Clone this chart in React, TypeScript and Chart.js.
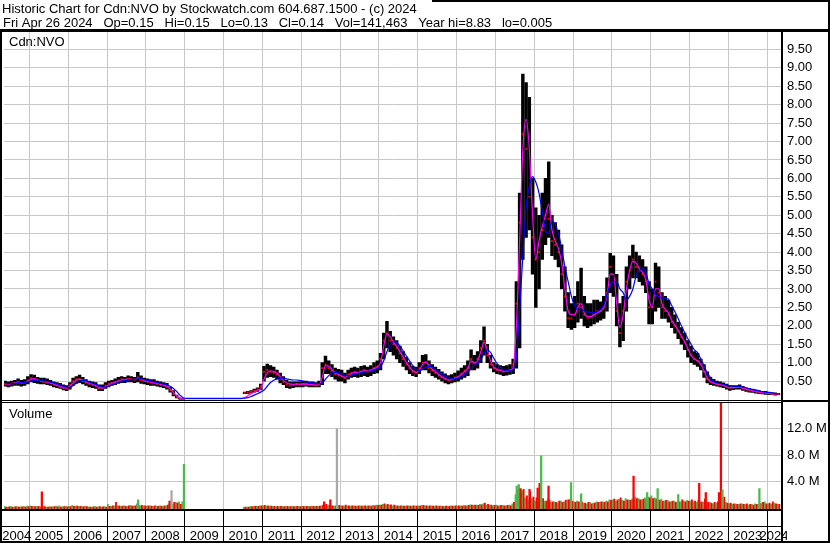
import React, { useEffect, useRef } from "react";
import { Chart, registerables } from "chart.js";
Chart.register(...registerables);

const TITLE = "Historic Chart for Cdn:NVO by Stockwatch.com 604.687.1500 - (c) 2024";
const INFO = "Fri Apr 26 2024   Op=0.15   Hi=0.15   Lo=0.13   Cl=0.14   Vol=141,463   Year hi=8.83   lo=0.005";
const SYMBOL = "Cdn:NVO";
const VOLUME_TITLE = "Volume";

const START_YEAR = 2004;
const START_MONTH = 5; // first month shown: May 2004
const X_MIN = 2004.345;
const X_MAX = 2024.357;
const Y_MIN = -0.081;
const Y_MAX = 10;
const V_MIN = -0.2; // millions
const V_MAX = 16;

const yearLabels = ["2004","2005","2006","2007","2008","2009","2010","2011","2012","2013","2014","2015","2016","2017","2018","2019","2020","2021","2022","2023","2024"];

const N = null;
// monthly price ranges (May 2004 .. Apr 2024)
const priceHigh: (number | null)[] = [
  0.50,0.48,0.50,0.52,0.56,0.52,0.54,0.62,
  0.68,0.66,0.60,0.58,0.58,0.56,0.52,0.48,0.46,0.44,0.40,0.38,
  0.46,0.58,0.62,0.66,0.60,0.54,0.50,0.48,0.46,0.40,0.40,0.46,
  0.50,0.52,0.56,0.60,0.62,0.60,0.64,0.62,0.60,0.74,0.64,0.58,
  0.56,0.54,0.54,0.50,0.48,0.46,0.44,0.34,0.24,0.12,0.04,0.02,
  N,N,N,N,N,N,N,N,N,N,N,N,
  N,N,N,N,N,N,0.20,0.22,0.24,0.28,0.32,0.42,
  0.90,0.96,0.92,0.88,0.80,0.72,0.62,0.52,0.48,0.48,0.48,0.48,
  0.50,0.50,0.48,0.48,0.46,0.50,1.00,1.18,1.05,0.95,0.85,0.82,
  0.80,0.72,0.80,0.85,0.88,0.85,0.90,0.92,0.88,0.92,1.00,1.05,
  1.25,1.80,2.12,1.85,1.70,1.60,1.45,1.30,1.15,1.00,0.90,0.88,
  1.00,1.20,1.22,1.05,0.95,0.88,0.82,0.75,0.70,0.65,0.68,0.72,
  0.78,0.85,0.92,1.05,1.35,1.20,1.30,1.60,1.97,1.50,1.20,1.00,
  0.95,0.92,0.90,0.92,0.95,1.10,3.20,5.60,8.83,8.60,8.20,6.00,
  5.20,5.00,5.60,6.00,6.45,5.00,4.80,4.60,4.20,3.60,2.90,2.60,
  2.80,3.20,3.57,2.80,2.60,2.60,2.70,2.70,2.65,2.80,3.30,3.97,
  3.90,3.40,2.60,2.80,3.60,3.90,4.19,4.00,3.90,3.80,3.60,3.20,
  3.00,3.70,3.60,2.90,2.80,2.70,2.50,2.30,2.10,1.95,1.80,1.60,
  1.45,1.30,1.25,1.10,0.95,0.75,0.60,0.55,0.50,0.48,0.45,0.42,
  0.38,0.38,0.38,0.40,0.36,0.32,0.30,0.28,0.26,0.24,0.22,0.22,
  0.20,0.19,0.18,0.17,
];
const priceLow: (number | null)[] = [
  0.36,0.34,0.36,0.38,0.38,0.36,0.38,0.42,
  0.48,0.46,0.44,0.42,0.42,0.40,0.38,0.34,0.32,0.30,0.26,0.24,
  0.28,0.38,0.44,0.46,0.42,0.38,0.34,0.32,0.30,0.24,0.24,0.30,
  0.34,0.38,0.40,0.44,0.46,0.46,0.48,0.48,0.46,0.48,0.44,0.42,
  0.40,0.38,0.38,0.36,0.34,0.32,0.28,0.20,0.10,0.04,0.01,0.005,
  N,N,N,N,N,N,N,N,N,N,N,N,
  N,N,N,N,N,N,0.16,0.16,0.18,0.20,0.22,0.26,
  0.50,0.60,0.62,0.60,0.55,0.45,0.40,0.32,0.30,0.32,0.34,0.34,
  0.34,0.36,0.34,0.34,0.34,0.34,0.40,0.70,0.70,0.62,0.55,0.50,
  0.50,0.45,0.55,0.60,0.62,0.60,0.62,0.65,0.62,0.65,0.70,0.72,
  0.80,1.10,1.40,1.30,1.20,1.10,1.00,0.90,0.80,0.70,0.65,0.62,
  0.70,0.80,0.80,0.72,0.65,0.60,0.55,0.50,0.45,0.42,0.45,0.48,
  0.50,0.55,0.60,0.65,0.80,0.80,0.85,1.00,1.20,1.00,0.85,0.75,
  0.70,0.68,0.65,0.66,0.68,0.70,0.85,1.40,3.80,4.40,4.60,3.40,
  2.50,3.00,3.80,4.20,4.40,3.90,3.80,3.60,3.00,2.40,1.95,1.90,
  1.95,2.10,2.20,2.00,1.95,2.00,2.05,2.10,2.15,2.20,2.40,2.90,
  2.80,2.00,1.43,1.60,2.40,3.00,3.30,3.30,3.20,3.10,2.90,2.05,
  2.05,2.40,2.50,2.20,2.20,2.10,1.95,1.80,1.65,1.50,1.35,1.15,
  1.00,0.95,0.90,0.80,0.60,0.45,0.40,0.38,0.36,0.34,0.32,0.28,
  0.25,0.27,0.28,0.28,0.25,0.22,0.20,0.19,0.17,0.16,0.15,0.14,
  0.13,0.13,0.12,0.13,
];
const priceClose: (number | null)[] = [
  0.42,0.40,0.44,0.45,0.48,0.44,0.46,0.52,
  0.58,0.55,0.52,0.50,0.48,0.46,0.44,0.40,0.38,0.34,0.30,0.30,
  0.40,0.50,0.55,0.56,0.50,0.45,0.42,0.40,0.36,0.30,0.32,0.38,
  0.44,0.46,0.48,0.52,0.55,0.54,0.56,0.55,0.54,0.60,0.52,0.50,
  0.48,0.46,0.45,0.42,0.40,0.38,0.34,0.25,0.14,0.06,0.02,0.01,
  N,N,N,N,N,N,N,N,N,N,N,N,
  N,N,N,N,N,N,0.18,0.19,0.21,0.24,0.28,0.36,
  0.75,0.80,0.75,0.72,0.68,0.55,0.48,0.40,0.38,0.40,0.42,0.40,
  0.42,0.42,0.40,0.40,0.38,0.40,0.85,0.95,0.85,0.78,0.68,0.65,
  0.62,0.58,0.68,0.72,0.75,0.72,0.76,0.80,0.76,0.80,0.85,0.90,
  1.10,1.60,1.80,1.60,1.50,1.40,1.25,1.10,0.95,0.85,0.75,0.72,
  0.85,1.00,1.00,0.85,0.78,0.72,0.65,0.60,0.55,0.52,0.55,0.60,
  0.62,0.70,0.78,0.85,1.10,0.98,1.10,1.40,1.60,1.20,0.95,0.85,
  0.80,0.78,0.75,0.78,0.80,0.95,2.60,4.80,7.20,6.80,5.50,4.40,
  3.80,4.00,4.60,5.00,4.90,4.30,4.20,4.00,3.40,2.80,2.20,2.20,
  2.30,2.60,2.50,2.30,2.20,2.25,2.30,2.40,2.40,2.50,2.90,3.60,
  3.20,2.40,1.80,2.40,3.20,3.50,3.80,3.60,3.50,3.40,3.20,2.50,
  2.50,3.20,2.90,2.50,2.40,2.30,2.10,2.00,1.85,1.70,1.55,1.35,
  1.20,1.10,1.05,0.95,0.75,0.55,0.48,0.45,0.42,0.40,0.38,0.33,
  0.32,0.33,0.33,0.34,0.30,0.27,0.25,0.23,0.21,0.20,0.18,0.17,
  0.16,0.15,0.15,0.14,
];
const maShort: number[] = [
  0.43,0.42,0.43,0.45,0.46,0.45,0.46,0.50,
  0.55,0.57,0.54,0.51,0.49,0.47,0.45,0.42,0.39,0.36,0.33,0.31,
  0.36,0.45,0.52,0.55,0.53,0.48,0.44,0.41,0.38,0.33,0.31,0.35,
  0.40,0.44,0.47,0.50,0.53,0.54,0.55,0.55,0.54,0.57,0.55,0.51,
  0.49,0.47,0.46,0.44,0.41,0.39,0.36,0.29,0.19,0.10,0.04,0.02,
  0.025,0.025,0.025,0.025,0.025,0.025,0.025,0.025,0.025,0.025,0.025,0.025,
  0.025,0.025,0.025,0.025,0.025,0.025,0.05,0.10,0.16,0.20,0.25,0.30,
  0.55,0.72,0.78,0.76,0.72,0.62,0.52,0.45,0.42,0.41,0.42,0.42,
  0.42,0.42,0.41,0.40,0.39,0.40,0.60,0.92,0.90,0.82,0.72,0.68,
  0.64,0.60,0.64,0.70,0.74,0.73,0.75,0.78,0.77,0.79,0.84,0.88,
  1.00,1.45,1.78,1.70,1.55,1.45,1.30,1.15,1.00,0.88,0.78,0.74,
  0.80,0.95,1.02,0.92,0.82,0.75,0.68,0.62,0.57,0.53,0.54,0.58,
  0.62,0.68,0.76,0.84,1.05,1.00,1.05,1.30,1.55,1.35,1.05,0.88,
  0.82,0.80,0.77,0.77,0.79,0.88,2.00,4.30,6.80,7.60,6.80,5.00,
  3.80,4.30,4.70,5.00,5.30,4.60,4.30,4.10,3.70,3.00,2.40,2.30,
  2.30,2.50,2.60,2.35,2.25,2.25,2.30,2.35,2.40,2.50,2.80,3.40,
  3.40,2.60,1.95,2.30,3.00,3.50,3.75,3.70,3.55,3.45,3.25,2.70,
  2.50,3.00,3.00,2.60,2.45,2.35,2.15,2.02,1.88,1.72,1.57,1.38,
  1.20,1.10,1.05,0.95,0.78,0.58,0.48,0.45,0.42,0.40,0.38,0.34,
  0.32,0.32,0.33,0.33,0.31,0.28,0.26,0.24,0.22,0.20,0.19,0.18,
  0.17,0.16,0.15,0.15,
];
const maLong: number[] = [
  0.44,0.43,0.43,0.44,0.45,0.45,0.46,0.48,
  0.50,0.52,0.53,0.52,0.50,0.49,0.47,0.45,0.42,0.39,0.36,0.33,
  0.33,0.38,0.44,0.50,0.52,0.51,0.47,0.44,0.41,0.37,0.34,0.34,
  0.36,0.40,0.44,0.47,0.50,0.52,0.53,0.54,0.55,0.56,0.56,0.54,
  0.52,0.50,0.48,0.46,0.44,0.42,0.40,0.36,0.30,0.22,0.12,0.05,
  0.03,0.03,0.03,0.03,0.03,0.03,0.03,0.03,0.03,0.03,0.03,0.03,
  0.03,0.03,0.03,0.03,0.03,0.03,0.035,0.05,0.08,0.12,0.16,0.20,
  0.26,0.36,0.46,0.52,0.56,0.58,0.58,0.56,0.54,0.53,0.53,0.52,
  0.50,0.48,0.46,0.45,0.44,0.43,0.45,0.55,0.65,0.72,0.74,0.72,
  0.70,0.66,0.64,0.66,0.69,0.71,0.73,0.75,0.76,0.77,0.80,0.83,
  0.88,1.05,1.30,1.50,1.58,1.55,1.45,1.32,1.18,1.05,0.92,0.82,
  0.78,0.82,0.88,0.90,0.88,0.82,0.76,0.70,0.64,0.59,0.56,0.56,
  0.58,0.62,0.68,0.74,0.84,0.92,0.98,1.08,1.25,1.35,1.28,1.12,
  0.98,0.88,0.80,0.78,0.78,0.82,1.10,2.40,3.90,5.20,5.80,6.05,
  5.90,5.60,5.10,4.60,4.50,4.85,4.75,4.50,4.10,3.60,3.20,2.80,
  2.55,2.45,2.45,2.40,2.38,2.36,2.35,2.38,2.45,2.55,2.85,3.10,
  3.20,3.20,3.00,2.90,2.70,2.80,3.00,3.35,3.50,3.55,3.45,3.15,
  3.00,2.85,2.78,2.76,2.75,2.72,2.55,2.38,2.20,2.00,1.82,1.65,
  1.50,1.35,1.27,1.10,0.92,0.72,0.60,0.48,0.45,0.43,0.41,0.39,
  0.37,0.36,0.35,0.35,0.34,0.32,0.29,0.27,0.25,0.23,0.21,0.20,
  0.19,0.18,0.16,0.15,
];
// typical daily volume per month, millions (up days / down days)
const volGreen: number[] = [
  0.15,0.1,0.2,0.1,0.15,0.12,0.2,0.25,
  0.3,0.2,0.15,0.12,0.2,0.1,0.15,0.12,0.25,0.3,0.15,0.2,
  0.2,0.35,0.25,0.2,0.15,0.2,0.12,0.1,0.15,0.12,0.1,0.15,
  0.5,0.2,0.3,0.25,0.2,0.3,0.2,0.35,0.3,0.6,0.3,0.25,
  0.25,0.3,0.2,0.25,0.3,0.2,0.3,0.6,0.5,0.8,0.9,0.9,
  0,0,0,0,0,0,0,0,0,0,0,0,
  0,0,0,0,0,0,0.05,0.1,0.15,0.2,0.25,0.3,
  0.3,0.25,0.2,0.2,0.15,0.15,0.2,0.15,0.15,0.2,0.15,0.2,
  0.2,0.15,0.2,0.25,0.2,0.2,0.3,0.4,0.3,0.3,0.25,0.3,
  0.3,0.25,0.3,0.25,0.3,0.25,0.3,0.3,0.25,0.3,0.35,0.4,
  0.4,0.5,0.45,0.35,0.3,0.3,0.25,0.3,0.25,0.3,0.25,0.3,
  0.3,0.35,0.3,0.25,0.3,0.25,0.2,0.25,0.2,0.25,0.3,0.25,
  0.3,0.3,0.35,0.3,0.45,0.35,0.4,0.5,0.6,0.4,0.35,0.3,
  0.4,0.3,0.35,0.3,0.4,0.6,2.0,3.4,2.6,1.5,1.2,1.4,
  1.0,0.9,1.2,1.0,1.4,0.8,0.9,0.7,1.0,0.9,1.2,1.3,
  0.9,1.0,0.8,0.7,0.6,0.8,0.7,0.9,0.8,0.9,1.0,1.2,
  1.2,1.0,1.3,1.1,1.4,1.2,1.3,1.6,1.4,1.2,1.5,1.6,
  1.8,1.5,1.2,1.3,1.0,1.1,0.9,1.0,0.8,0.9,1.0,1.1,
  1.0,0.9,0.8,0.9,0.8,0.7,0.8,0.6,0.7,0.9,1.2,0.8,
  0.6,0.5,0.6,0.5,0.6,0.5,0.4,0.5,0.6,0.5,0.7,0.9,
  0.6,0.5,0.7,0.5,
];
const volRed: number[] = [
  0.1,0.12,0.1,0.15,0.1,0.12,0.1,0.15,
  0.2,0.15,0.2,0.1,0.15,0.1,0.12,0.15,0.12,0.1,0.15,0.12,
  0.15,0.2,0.25,0.2,0.15,0.15,0.1,0.12,0.1,0.15,0.12,0.1,
  0.2,0.3,0.8,0.3,0.25,0.2,0.3,0.25,0.3,0.4,0.35,0.3,
  0.3,0.25,0.3,0.2,0.25,0.3,0.4,1.0,0.8,0.7,0.5,0.3,
  0,0,0,0,0,0,0,0,0,0,0,0,
  0,0,0,0,0,0,0.1,0.1,0.15,0.2,0.2,0.3,
  0.35,0.3,0.25,0.2,0.2,0.2,0.15,0.2,0.15,0.15,0.2,0.15,
  0.2,0.2,0.15,0.2,0.2,0.25,0.4,0.5,0.4,0.3,0.3,0.35,
  0.3,0.4,0.3,0.3,0.25,0.3,0.25,0.3,0.3,0.25,0.3,0.35,
  0.4,0.6,0.5,0.45,0.4,0.3,0.3,0.25,0.3,0.25,0.3,0.25,
  0.25,0.35,0.3,0.3,0.25,0.3,0.25,0.2,0.25,0.2,0.25,0.3,
  0.3,0.25,0.3,0.35,0.4,0.4,0.35,0.45,0.7,0.5,0.4,0.35,
  0.3,0.35,0.3,0.35,0.3,0.8,2.6,2.2,2.8,1.8,2.4,1.6,
  1.5,1.2,1.4,1.0,1.1,0.9,0.8,1.0,0.8,1.1,1.2,1.0,
  0.8,0.9,0.9,0.7,0.8,0.6,0.7,0.8,0.9,0.8,0.9,1.1,
  1.3,1.2,1.5,1.0,1.2,1.1,1.2,1.4,1.2,1.3,1.2,1.5,
  1.4,1.3,1.1,1.0,1.1,0.9,1.0,0.8,0.9,1.2,0.9,1.0,
  1.2,1.0,1.1,0.9,1.3,0.8,0.7,0.8,0.9,1.0,1.6,0.7,
  0.7,0.6,0.5,0.6,0.5,0.6,0.5,0.4,0.5,0.6,0.8,0.6,
  0.7,0.9,0.6,0.5,
];
// notable single-day volume bars: [date (year fraction), millions, colour key]
const volSpikes: [number, number, string][] = [
  [2005.32, 2.4, "r"], [2007.80, 1.2, "g"], [2008.61, 1.0, "r"], [2008.66, 2.6, "k"],
  [2008.98, 6.6, "g"], [2012.59, 0.9, "r"], [2012.75, 1.2, "r"], [2012.92, 12.0, "k"],
  [2017.55, 3.3, "g"], [2017.60, 3.5, "g"], [2017.65, 2.9, "r"], [2017.88, 2.8, "r"],
  [2018.09, 3.0, "r"], [2018.14, 3.7, "r"], [2018.18, 7.9, "g"], [2018.37, 3.3, "r"],
  [2018.95, 3.8, "g"], [2019.21, 2.1, "g"], [2020.56, 4.8, "r"], [2020.91, 2.3, "g"],
  [2021.18, 2.9, "g"], [2021.71, 2.0, "g"], [2022.25, 3.7, "r"], [2022.42, 2.3, "r"],
  [2022.76, 2.3, "r"], [2022.81, 16.0, "r"], [2022.85, 2.7, "g"], [2023.80, 2.9, "g"],
];

const GREEN = "#4db84d";
const RED = "#ff0000";
const GREY = "#a8a8a8";
const GRID = "#c8c8c8";
const FONT = "'Liberation Sans', Arial, sans-serif";
const spikeColor: Record<string, string> = { r: RED, g: GREEN, k: GREY };

const framePlugin = {
  id: "frame",
  afterDraw(chart: any) {
    const { ctx, chartArea, scales } = chart;
    const xs = scales.x;
    const W = chart.width, H = chart.height;
    const axisX = Math.round(chartArea.right);
    ctx.save();
    ctx.fillStyle = "#000";
    ctx.font = `13px ${FONT}`;
    ctx.textAlign = "left";
    ctx.textBaseline = "alphabetic";
    ctx.fillText(TITLE, 2, 13);
    ctx.fillText(INFO, 3, 27);
    ctx.fillText(SYMBOL, 9, 46);
    ctx.fillText(VOLUME_TITLE, 9, 418);
    // frame lines
    ctx.fillRect(432, 0, W - 432, 2);
    ctx.fillRect(W - 2, 0, 2, H);
    ctx.fillRect(0, 29, W, 3);
    ctx.fillRect(0, 29, 2, H - 29);
    ctx.fillRect(axisX, 29, 2, H - 29);
    const split = Math.round(scales.y.bottom);
    ctx.fillRect(0, split - 3, W, 1);
    ctx.fillRect(axisX, split - 3, W - axisX, 2);
    ctx.fillRect(0, split - 1, axisX, 1);
    const bot = Math.round(chartArea.bottom);
    ctx.fillRect(0, bot, axisX, 2);
    ctx.fillRect(0, bot + 17, axisX, 1);
    ctx.fillRect(0, H - 2, W, 2);
    // year separators and labels
    for (let k = 1; k < yearLabels.length; k++) {
      const px = xs.getPixelForValue(START_YEAR + k);
      ctx.fillRect(Math.round(px - 0.5), bot + 2, 1, H - bot - 4);
    }
    ctx.beginPath();
    ctx.rect(0, bot + 18, axisX + 6, H - bot - 20);
    ctx.clip();
    ctx.textAlign = "center";
    yearLabels.forEach((lab, k) => {
      const l = Math.max(xs.getPixelForValue(START_YEAR + k), chartArea.left);
      const r = Math.min(xs.getPixelForValue(START_YEAR + k + 1), chartArea.right);
      ctx.fillText(lab, (l + r) / 2, H - 3);
    });
    ctx.restore();
  },
};

export default function App() {
  const ref = useRef<HTMLCanvasElement>(null);
  useEffect(() => {
    document.body.style.margin = "0";
    const canvas = ref.current!;
    const xm = (i: number) => START_YEAR + (START_MONTH - 1 + i + 0.5) / 12;
    const rangeBars: any[] = [];
    const closes: any[] = [];
    priceLow.forEach((lo, i) => {
      if (lo != null && priceHigh[i] != null) rangeBars.push({ x: xm(i), y: [lo, priceHigh[i]] });
      if (priceClose[i] != null) closes.push({ x: xm(i), y: priceClose[i] });
    });
    const shortLine = maShort.map((v, i) => ({ x: xm(i), y: v }));
    const longLine = maLong.map((v, i) => ({ x: xm(i), y: v }));
    const gBars = volGreen.map((v, i) => ({ x: xm(i) - 1 / 48, y: v })).filter((d) => d.y > 0);
    const rBars = volRed.map((v, i) => ({ x: xm(i) + 1 / 48, y: v })).filter((d) => d.y > 0);
    const sBars = volSpikes.map(([t, v, c]) => ({ x: t, y: v, c }));

    const tickFont = { family: FONT, size: 13, lineHeight: 1 };
    const chart = new Chart(canvas, {
      type: "bar",
      data: {
        datasets: [
          { type: "line", data: longLine, yAxisID: "y", borderColor: "#0000ff", borderWidth: 1.2, pointRadius: 0, cubicInterpolationMode: "monotone", order: 0 } as any,
          { type: "line", data: shortLine, yAxisID: "y", borderColor: "#ff00ff", borderWidth: 1.2, pointRadius: 0, cubicInterpolationMode: "monotone", order: 1 } as any,
          { type: "line", data: closes, yAxisID: "y", showLine: false, pointStyle: "rect", pointRadius: 1.3, backgroundColor: RED, borderWidth: 0, order: 2 } as any,
          { type: "bar", data: rangeBars, yAxisID: "y", backgroundColor: "#000", barThickness: 2.8, minBarLength: 1, stack: "all", order: 3 } as any,
          { type: "bar", data: gBars, yAxisID: "yv", backgroundColor: GREEN, barThickness: 1.2, base: V_MIN, stack: "all", order: 6 } as any,
          { type: "bar", data: rBars, yAxisID: "yv", backgroundColor: RED, barThickness: 1.2, base: V_MIN, stack: "all", order: 5 } as any,
          { type: "bar", data: sBars, yAxisID: "yv", backgroundColor: (c: any) => spikeColor[c.raw?.c] || RED, barThickness: 1.6, base: V_MIN, stack: "all", order: 4 } as any,
        ],
      },
      options: {
        responsive: false,
        animation: false,
        devicePixelRatio: 1,
        events: [],
        layout: { padding: { left: 2, right: 0, top: 31, bottom: 34 } },
        plugins: { legend: { display: false }, tooltip: { enabled: false } },
        scales: {
          x: {
            type: "linear", min: X_MIN, max: X_MAX, offset: false,
            ticks: { stepSize: 1, display: false, includeBounds: false },
            grid: { color: GRID, lineWidth: 1, drawTicks: false, offset: false },
            border: { display: false },
            afterFit: (s: any) => { s.height = 0; },
          },
          y: {
            type: "linear", position: "right", stack: "panels", stackWeight: 371.5, stacked: false,
            min: Y_MIN, max: Y_MAX,
            ticks: {
              stepSize: 0.5, includeBounds: false, autoSkip: false, padding: 6, color: "#000", font: tickFont,
              callback: (v: any) => (v > 0 && v < Y_MAX ? Number(v).toFixed(2) : ""),
            },
            grid: { color: (c: any) => (c.tick && c.tick.value > 0 && c.tick.value < Y_MAX ? GRID : "rgba(0,0,0,0)"), drawTicks: false },
            border: { display: false },
            afterFit: (s: any) => { s.width = 49; },
          },
          yv: {
            type: "linear", position: "right", stack: "panels", stackWeight: 106.5, stacked: false,
            min: V_MIN, max: V_MAX,
            ticks: {
              stepSize: 4, includeBounds: false, autoSkip: false, padding: 6, color: "#000", font: tickFont,
              callback: (v: any) => (v > 0 && v < V_MAX ? `${Number(v).toFixed(1)} M` : ""),
            },
            grid: { color: (c: any) => (c.tick && c.tick.value > 0 && c.tick.value < V_MAX ? GRID : "rgba(0,0,0,0)"), drawTicks: false },
            border: { display: false },
            afterFit: (s: any) => { s.width = 49; },
          },
        },
      } as any,
      plugins: [framePlugin],
    });
    return () => chart.destroy();
  }, []);
  return <canvas ref={ref} width={830} height={543} style={{ display: "block", width: 830, height: 543 }} />;
}
